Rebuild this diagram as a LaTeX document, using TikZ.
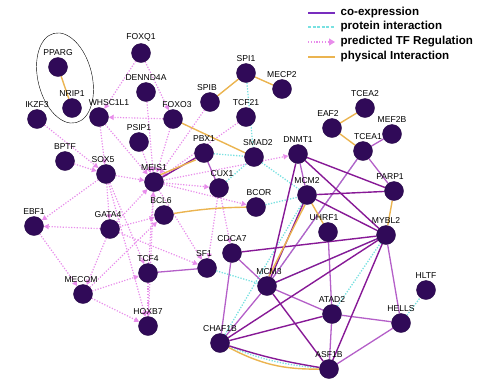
\documentclass[tikz,border=0pt]{standalone}
\usepackage{fontspec}
\setmainfont{Liberation Sans}
\usetikzlibrary{arrows.meta,backgrounds}

\definecolor{genecol}{RGB}{48,10,88}
\definecolor{coexpcol}{RGB}{135,25,150}
\definecolor{coexplcol}{RGB}{180,95,200}
\definecolor{protcol}{RGB}{120,225,225}
\definecolor{tfcol}{RGB}{232,140,235}
\definecolor{physcol}{RGB}{235,180,80}
\definecolor{legcoexp}{RGB}{120,45,190}

\tikzset{
  gene/.style={circle,fill=genecol,draw=genecol!80!black,inner sep=0pt,minimum size=19bp},
  glabel/.style={font=\fontsize{8.6}{9}\selectfont,inner sep=0pt,label distance=2bp},
  coexp/.style={draw=coexpcol,line width=1.4bp},
  coexpl/.style={draw=coexplcol,line width=1.3bp},
  prot/.style={draw=protcol,line width=1.3bp,dash pattern=on 1.3bp off 1.5bp},
  tfreg/.style={draw=tfcol,line width=1.2bp,dash pattern=on 1.2bp off 1.6bp,
    -{Triangle[length=5bp,width=5bp]}},
  phys/.style={draw=physcol,line width=1.4bp},
  legtext/.style={right=5bp,font=\bfseries\fontsize{11.6}{12}\selectfont,inner sep=0pt},
}

\newcommand{\gene}[4][0]{%
  \node[gene,label={[glabel,xshift=#1bp]above:#4}] (#2) at (#3) {};}

\begin{document}
\begin{tikzpicture}[x=1bp,y=-1bp]
\useasboundingbox (0,0) rectangle (491,389);

% genes
\gene{PPARG}{58,67}{PPARG}
\gene{NRIP1}{72,108}{NRIP1}
\gene{IKZF3}{37,119}{IKZF3}
\gene[10]{WHSC1L1}{99,117}{WHSC1L1}
\gene{FOXQ1}{141,53}{FOXQ1}
\gene{DENND4A}{146,92}{DENND4A}
\gene[4]{FOXO3}{173,119}{FOXO3}
\gene[-3]{SPIB}{210,102}{SPIB}
\gene{SPI1}{246,73}{SPI1}
\gene{MECP2}{282,89}{MECP2}
\gene{TCF21}{246,117}{TCF21}
\gene[-4]{EAF2}{332,128}{EAF2}
\gene{TCEA2}{365,108}{TCEA2}
\gene[5]{TCEA1}{363,151}{TCEA1}
\gene{MEF2B}{392,134}{MEF2B}
\gene[-4]{PARP1}{394,191}{PARP1}
\gene{PSIP1}{139,142}{PSIP1}
\gene{PBX1}{204,153}{PBX1}
\gene[4]{SMAD2}{254,157}{SMAD2}
\gene{DNMT1}{298,154}{DNMT1}
\gene{MCM2}{307,195}{MCM2}
\gene[3]{BCOR}{256,207}{BCOR}
\gene[3]{CUX1}{219,188}{CUX1}
\gene[-4]{UHRF1}{328,232}{UHRF1}
\gene{MYBL2}{386,235}{MYBL2}
\gene{CDCA7}{232,253}{CDCA7}
\gene{BPTF}{65,161}{BPTF}
\gene[-3]{SOX5}{106,174}{SOX5}
\gene{MEIS1}{154,182}{MEIS1}
\gene[-3]{BCL6}{164,215}{BCL6}
\gene{EBF1}{34,226}{EBF1}
\gene[-2]{GATA4}{110,229}{GATA4}
\gene[-3]{SF1}{207,268}{SF1}
\gene{TCF4}{148,273}{TCF4}
\gene[-2]{MECOM}{83,294}{MECOM}
\gene{HOXB7}{148,326}{HOXB7}
\gene{CHAF1B}{220,343}{CHAF1B}
\gene[2]{MCM3}{267,286}{MCM3}
\gene{ATAD2}{332,314}{ATAD2}
\gene{HELLS}{401,323}{HELLS}
\gene{HLTF}{426,290}{HLTF}
\gene{ASF1B}{329,369}{ASF1B}

\draw[rotate around={14:(65,78)}] (65,78) ellipse [x radius=27, y radius=46];

\begin{scope}[on background layer]
% predicted TF regulation
\foreach \s/\t in {IKZF3/SOX5,BPTF/SOX5,WHSC1L1/SOX5,WHSC1L1/MEIS1,FOXQ1/WHSC1L1,
  FOXQ1/FOXO3,FOXO3/WHSC1L1,DENND4A/MEIS1,PSIP1/MEIS1,FOXO3/MEIS1,SPIB/MEIS1,
  TCF21/MEIS1,MEIS1/DNMT1,MEIS1/CUX1,MEIS1/BCOR,SOX5/MEIS1,SOX5/EBF1,SOX5/GATA4,
  SOX5/TCF4,SOX5/HOXB7,GATA4/EBF1,EBF1/MECOM,GATA4/MEIS1,GATA4/BCL6,GATA4/SF1,
  GATA4/MECOM,MECOM/TCF4,MECOM/HOXB7,MECOM/BCL6,TCF4/MEIS1,TCF4/HOXB7,CUX1/SF1,
  CUX1/CDCA7,MEIS1/SF1,MEIS1/HOXB7}
  \draw[tfreg] (\s) -- (\t);
% protein interaction
\foreach \s/\t in {SPI1/SMAD2,CUX1/SMAD2,PBX1/SMAD2,SMAD2/MCM2,BCOR/MCM2,SF1/MCM3,
  MCM3/MYBL2,ATAD2/MYBL2,HELLS/HLTF,CHAF1B/MCM2,MCM3/TCEA1}
  \draw[prot] (\s) -- (\t);
\draw[prot] (CHAF1B) to[bend right=8] (ASF1B);
% co-expression
\foreach \s/\t in {PBX1/CUX1,TCF4/SF1,TCEA1/MEF2B,TCEA1/PARP1,TCEA1/MCM3,CDCA7/MCM3,
  CDCA7/CHAF1B,MCM3/CHAF1B,MCM3/ATAD2,ATAD2/ASF1B,ATAD2/HELLS,HELLS/ASF1B,
  UHRF1/ATAD2,MYBL2/HELLS,DNMT1/MCM2}
  \draw[coexpl] (\s) -- (\t);
\foreach \s/\t in {MEIS1/PBX1,CDCA7/MYBL2,DNMT1/MCM3,DNMT1/MYBL2,DNMT1/PARP1,
  MCM2/MYBL2,MCM2/PARP1,MCM3/MYBL2,MCM3/ASF1B,MYBL2/ASF1B,CHAF1B/ATAD2,
  CHAF1B/MYBL2,MCM2/MCM3}
  \draw[coexp] (\s) -- (\t);
\draw[coexp] (CHAF1B) to[bend right=4] (ASF1B);
% physical interaction
\foreach \s/\t in {PPARG/NRIP1,SPIB/SPI1,SPI1/MECP2,FOXO3/SMAD2,EAF2/TCEA2,
  EAF2/TCEA1,PARP1/MYBL2,MCM2/UHRF1}
  \draw[phys] (\s) -- (\t);
\draw[phys] ([xshift=-1.5bp]MEIS1.north east) -- ([xshift=-1.5bp]PBX1.south west);
\draw[phys] ([xshift=-2bp]MCM2.south) -- ([xshift=2bp]MCM3.north);
\draw[phys] (BCL6) to[bend left=4] (BCOR);
\draw[phys] (CHAF1B) to[bend right=14] (ASF1B);
\end{scope}

% legend
\coordinate (l1a) at (308,13); \coordinate (l1b) at (335,13);
\coordinate (l2a) at (308,27); \coordinate (l2b) at (335,27);
\coordinate (l3a) at (308,42); \coordinate (l3b) at (335,42);
\coordinate (l4a) at (308,57); \coordinate (l4b) at (335,57);
\draw[draw=legcoexp,line width=1.4bp] (l1a) -- (l1b) node[legtext] {co-expression};
\draw[draw=protcol,line width=1.3bp,dash pattern=on 3bp off 1.5bp] (l2a) -- (l2b)
  node[legtext] {protein interaction};
\draw[tfreg,-{Triangle[length=6bp,width=7bp]}] (l3a) -- (l3b)
  node[legtext] {predicted TF Regulation};
\draw[phys] (l4a) -- (l4b) node[legtext] {physical Interaction};
\end{tikzpicture}
\end{document}
